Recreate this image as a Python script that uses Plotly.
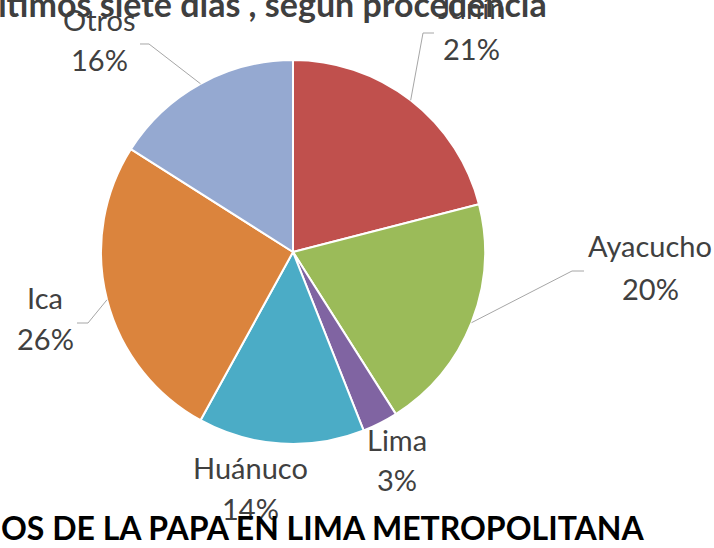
import math
import plotly.graph_objects as go

# ---- data ----
labels = ["Junín", "Ayacucho", "Lima", "Huánuco", "Ica", "Otros"]
values = [21, 20, 3, 14, 26, 16]
colors = ["#C0504D", "#9BBB59", "#8064A2", "#4BACC6", "#DB843D", "#95A9D1"]

top_title = "últimos siete días , según procedencia"
bottom_title = "OS DE LA PAPA EN LIMA METROPOLITANA"

# ---- layout helpers (pixels -> paper) ----
W, H = 714, 548
cx, cy, r = 293, 252, 192


def px(x):
    return x / W


def py(y):
    return 1 - y / H


FONT = "Lato, Carlito, Calibri, 'Open Sans', sans-serif"
TXT = "#404040"

fig = go.Figure(
    go.Pie(
        labels=labels,
        values=values,
        sort=False,
        direction="clockwise",
        rotation=0,
        marker=dict(colors=colors, line=dict(color="white", width=2)),
        textinfo="none",
        hoverinfo="label+percent",
        domain=dict(x=[px(cx - r), px(cx + r)], y=[py(cy + r), py(cy - r)]),
        showlegend=False,
    )
)

# label placement (layout): name centre, percent centre, leader elbow
label_layout = {
    "Junín": dict(x=471, yn=8, yp=48, elbow=[(434, 33), (423, 33)]),
    "Ayacucho": dict(x=650, yn=246, yp=288, elbow=[(584, 271), (572, 271)]),
    "Lima": dict(x=397, yn=439, yp=479, elbow=None),
    "Huánuco": dict(x=251, yn=467, yp=508, elbow=None),
    "Ica": dict(x=45, yn=298, yp=338, elbow=[(77, 323), (88, 323)]),
    "Otros": dict(x=99, yn=20, yp=60, elbow=[(140, 44), (149, 44)]),
}

total = sum(values)
cum = 0
annotations = []
shapes = []
for lab, v in zip(labels, values):
    mid = (cum + v / 2) / total
    cum += v
    ang = mid * 2 * math.pi
    ex, ey = cx + r * math.sin(ang), cy - r * math.cos(ang)
    L = label_layout[lab]
    pct = f"{round(v / total * 100)}%"
    annotations.append(dict(x=px(L["x"]), y=py(L["yn"]), xref="paper", yref="paper",
                            text=lab, showarrow=False, xanchor="center", yanchor="middle",
                            font=dict(family=FONT, size=29, color=TXT)))
    annotations.append(dict(x=px(L["x"]), y=py(L["yp"]), xref="paper", yref="paper",
                            text=pct, showarrow=False, xanchor="center", yanchor="middle",
                            font=dict(family=FONT, size=29, color=TXT)))
    if L["elbow"]:
        pts = L["elbow"] + [(ex, ey)]
        path = "M " + " L ".join(f"{px(a):.5f},{py(b):.5f}" for a, b in pts)
        shapes.append(dict(type="path", xref="paper", yref="paper", path=path,
                           line=dict(color="#A6A6A6", width=1)))

annotations.append(dict(x=px(549), y=py(3), xref="paper", yref="paper", text="<b>" + top_title + "</b>",
                        showarrow=False, xanchor="right", yanchor="middle",
                        font=dict(family=FONT, size=34, color="#3F3F3F")))
annotations.append(dict(x=px(-1), y=py(527), xref="paper", yref="paper", text="<b>" + bottom_title + "</b>",
                        showarrow=False, xanchor="left", yanchor="middle",
                        font=dict(family=FONT, size=32, color="#000000")))

fig.update_layout(
    width=W, height=H,
    margin=dict(l=0, r=0, t=0, b=0),
    paper_bgcolor="white", plot_bgcolor="white",
    annotations=annotations, shapes=shapes,
)

fig.write_html("out.html", config={"displayModeBar": False},
               post_script="document.body.style.margin='0';")
